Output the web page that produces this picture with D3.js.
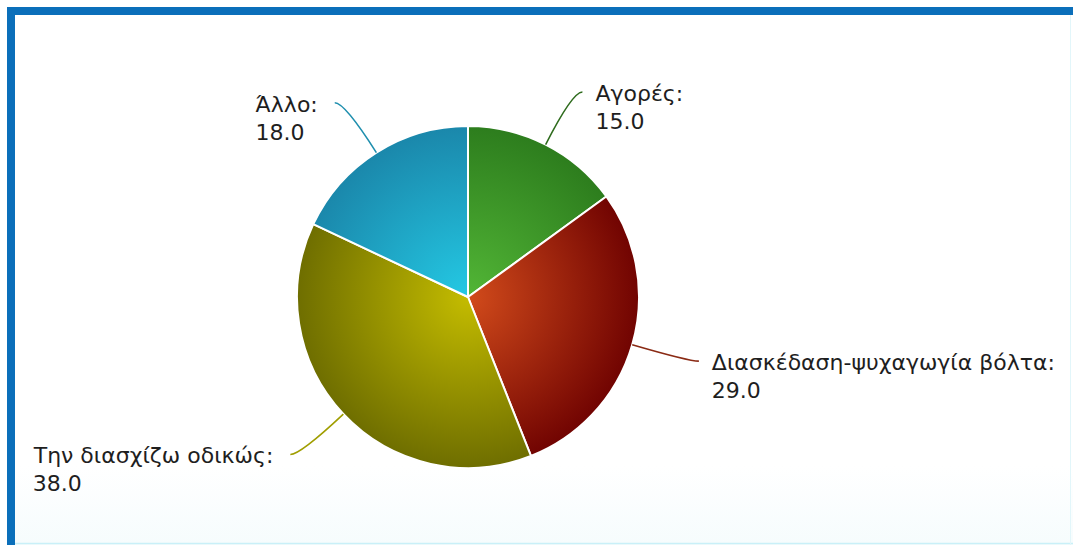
<!DOCTYPE html>
<html>
<head>
<meta charset="utf-8">
<script src="https://cdn.jsdelivr.net/npm/d3@7"></script>
<style>
  html, body { margin: 0; padding: 0; background: #fff; }
  svg { display: block; }
</style>
</head>
<body>
<svg id="chart" width="1073" height="545"></svg>
<script>
// ---- data ----
const categories = ["Αγορές", "Διασκέδαση-ψυχαγωγία βόλτα", "Την διασχίζω οδικώς", "Άλλο"];
const values = [15.0, 29.0, 38.0, 18.0];
const innerColors = ["#52b636", "#d24b1b", "#c4bc00", "#24c9e4"];
const outerColors = ["#2b7a1c", "#6c0000", "#6a6a00", "#1a84a8"];
const lineColors = ["#2f6c1e", "#8a2a14", "#a09e00", "#1f8fae"];

// ---- layout ----
const W = 1073, H = 545;
const cx = 468, cy = 297, R = 171;
const svg = d3.select("#chart");

// frame
svg.append("rect").attr("x", 0).attr("y", 0).attr("width", W).attr("height", H).attr("fill", "#ffffff");
const bg = svg.append("defs").append("linearGradient").attr("id", "bgGrad")
  .attr("x1", 0).attr("y1", 0).attr("x2", 0).attr("y2", 1);
bg.append("stop").attr("offset", "0.85").attr("stop-color", "#ffffff");
bg.append("stop").attr("offset", "1").attr("stop-color", "#f6fcfd");
svg.append("rect").attr("x", 15).attr("y", 15).attr("width", W - 15).attr("height", H - 15).attr("fill", "url(#bgGrad)");
svg.append("rect").attr("x", 7).attr("y", 7).attr("width", W - 7).attr("height", 8).attr("fill", "#0b6fba");
svg.append("rect").attr("x", 7).attr("y", 7).attr("width", 8).attr("height", H - 7).attr("fill", "#0b6fba");
svg.append("line").attr("x1", 15).attr("x2", W).attr("y1", 543.5).attr("y2", 543.5).attr("stroke", "#c9f0f8").attr("stroke-width", 1.5);
svg.append("line").attr("x1", 1070.5).attr("x2", 1070.5).attr("y1", 15).attr("y2", H).attr("stroke", "#e2f6fa").attr("stroke-width", 1);

const defs = svg.append("defs");
values.forEach((v, i) => {
  const g = defs.append("radialGradient").attr("id", "grad" + i)
    .attr("gradientUnits", "userSpaceOnUse")
    .attr("cx", 0).attr("cy", 0).attr("r", R * 1.05);
  g.append("stop").attr("offset", "0").attr("stop-color", innerColors[i]);
  g.append("stop").attr("offset", "1").attr("stop-color", outerColors[i]);
});

const pie = d3.pie().sort(null).value(d => d)(values);
const arc = d3.arc().innerRadius(0).outerRadius(R);

const g = svg.append("g").attr("transform", `translate(${cx},${cy})`);
g.selectAll("path.slice").data(pie).enter().append("path")
  .attr("class", "slice")
  .attr("d", arc)
  .attr("fill", (d, i) => `url(#grad${i})`)
  .attr("stroke", "#ffffff")
  .attr("stroke-width", 2)
  .attr("stroke-linejoin", "round");

// connectors and labels
const pt = (a, r) => [Math.sin(a) * r, -Math.cos(a) * r];
pie.forEach((d, i) => {
  const mid = (d.startAngle + d.endAngle) / 2;
  const side = Math.sin(mid) >= 0 ? 1 : -1;
  const p0 = pt(mid, R);
  const p1 = pt(mid, 230);
  const p2 = [p1[0] + side * 10, p1[1]];
  g.append("path")
    .attr("d", `M${p0[0]},${p0[1]} Q${p1[0]},${p1[1]} ${p2[0]},${p2[1]}`)
    .attr("fill", "none")
    .attr("stroke", lineColors[i])
    .attr("stroke-width", 1.6);
  const tx = p2[0] + side * (side > 0 ? 13 : 17);
  const t = g.append("text")
    .attr("x", tx)
    .attr("y", p2[1])
    .attr("text-anchor", side > 0 ? "start" : "end")
    .attr("font-family", "DejaVu Sans, Verdana, sans-serif")
    .attr("font-size", 22)
    .attr("fill", "#1e1e1e");
  t.append("tspan").attr("x", tx).attr("dy", "0.4em").text(categories[i] + ":");
  t.append("tspan").attr("x", tx).attr("dy", 28)
    .attr("text-anchor", "start")
    .text(d3.format(".1f")(values[i]));
});
// second-line values align left under the label start
g.selectAll("text").each(function () {
  const txt = d3.select(this);
  const first = txt.select("tspan:first-child").node();
  const bb = first.getBBox();
  txt.select("tspan:last-child").attr("x", bb.x).attr("text-anchor", "start");
});
</script>
</body>
</html>
